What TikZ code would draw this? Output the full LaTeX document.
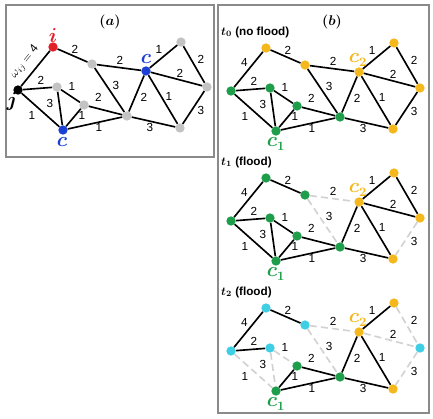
\documentclass[tikz,border=0pt]{standalone}
\usepackage{fontspec}
\setsansfont{Liberation Sans}
\usepackage{bm}
\usetikzlibrary{calc}
\definecolor{ired}{HTML}{E3202A}
\definecolor{cblue}{HTML}{1C3FD6}
\definecolor{nodegray}{HTML}{C3C3C3}
\definecolor{zonegreen}{HTML}{1E9E4B}
\definecolor{zoneyellow}{HTML}{F4B81C}
\definecolor{zonecyan}{HTML}{3ECFE4}
\definecolor{gonegray}{HTML}{D2D2D2}
\definecolor{framegray}{HTML}{8A8A8A}

% node spots of one network (pixels, y down) and its weighted links
\newcommand\netspots{i/53/47, j/18/90, a/92/64, ct/146/71, b/181/42, r/207/87,
  d/180/128, e/127/116, f/84/105, g/57/87, cb/63/130}
\newcommand\netlinks{i/a/2/2.5/-6.5, a/ct/2/1/-7.5, ct/b/1/-4.5/-7.5, b/r/2/7/-5.5,
  ct/r/2/3.5/-6, r/d/3/7.5/3, ct/d/1/6/-3, ct/e/2/7.5/3.5, a/e/3/6.5/-5,
  e/d/3/-3.5/5.5, j/g/2/3.5/-8, j/cb/1/-8.5/5.5, g/cb/3/-10/-5.5, g/f/1/1.5/-9.5,
  f/e/2/-7/-13, f/cb/1/8.5/-2, cb/e/1/4/4}

\tikzset{
  % panel (a)
  a/all/.style={fill=nodegray}, a/i/.style={fill=ired}, a/j/.style={fill=black},
  a/ct/.style={fill=cblue}, a/cb/.style={fill=cblue},
  % t0: no flood
  t0/all/.style={fill=zoneyellow},
  t0/j/.style={fill=zonegreen}, t0/g/.style={fill=zonegreen}, t0/f/.style={fill=zonegreen},
  t0/e/.style={fill=zonegreen}, t0/cb/.style={fill=zonegreen},
  % t1: flood
  t1/all/.style={fill=zonegreen},
  t1/ct/.style={fill=zoneyellow}, t1/b/.style={fill=zoneyellow}, t1/r/.style={fill=zoneyellow},
  t1/d/.style={fill=zoneyellow},
  t1/a-ct/.style={gone}, t1/a-e/.style={gone}, t1/r-d/.style={gone},
  % t2: flood
  t2/all/.style={fill=zonecyan},
  t2/f/.style={fill=zonegreen}, t2/e/.style={fill=zonegreen}, t2/cb/.style={fill=zonegreen},
  t2/ct/.style={fill=zoneyellow}, t2/b/.style={fill=zoneyellow}, t2/d/.style={fill=zoneyellow},
  t2/a-ct/.style={gone}, t2/a-e/.style={gone}, t2/b-r/.style={gone}, t2/ct-r/.style={gone},
  t2/r-d/.style={gone}, t2/j-cb/.style={gone}, t2/g-cb/.style={gone}, t2/g-f/.style={gone}
}

\newcommand\drawnet[2]{% #1 name prefix, #2 shift
  \begin{scope}[shift={(#2)}]
    \foreach \n/\x/\y in \netspots
      \node[dot,#1/all/.try,#1/\n/.try] (#1-\n) at (\x,\y) {};
  \end{scope}
  \foreach \u/\v/\w/\dx/\dy in \netlinks {
    \draw[link,#1/\u-\v/.try] (#1-\u) -- (#1-\v);
    \node[wt] (#1-w\u\v) at ($(#1-\u)!.5!(#1-\v)+(\dx,\dy)$) {\w};
  }
  \draw[link] (#1-j) -- (#1-i);
}

\begin{document}
\begin{tikzpicture}[x=0.03cm,y=-0.03cm]
  \tikzstyle{dot}=[circle,inner sep=0pt,minimum size=0.28cm]
  \tikzstyle{link}=[black,line width=1.4pt]
  \tikzstyle{gone}=[gonegray,dash pattern=on 6pt off 3.5pt]
  \tikzstyle{wt}=[inner sep=0pt,font=\sffamily\fontsize{10}{11}\selectfont]
  \tikzstyle{tag}=[inner sep=0pt,font=\fontsize{16}{17}\selectfont]
  \tikzstyle{head}=[inner sep=0pt,font=\fontsize{13}{14}\selectfont]
  \tikzstyle{stage}=[inner sep=0pt,anchor=west,font=\sffamily\bfseries\fontsize{10}{11}\selectfont]
  \tikzstyle{frame}=[framegray,line width=1.5pt]
  \useasboundingbox (0,0) rectangle (433,418);
  \draw[frame] (6,5) rectangle (214,157);
  \draw[frame] (218,5) rectangle (429,413);

  % (a) one network
  \node[head] (ttl-a) at (110,22) {$\bm{(a)}$};
  \drawnet{a}{0,0}
  \node[wt,rotate=51,font=\fontsize{10}{11}\selectfont] (a-wji) at (25,62) {$\omega_{ij}=\mathsf{4}$};
  \node[tag,text=ired] (a-li) at ($(a-i)+(0,-12)$) {$\bm{i}$};
  \node[tag] (a-lj) at ($(a-j)+(-6,11)$) {$\bm{j}$};
  \node[tag,text=cblue] (a-lct) at ($(a-ct)+(0,-12)$) {$\bm{c}$};
  \node[tag,text=cblue] (a-lcb) at ($(a-cb)+(-1,12)$) {$\bm{c}$};

  % (b) three time steps
  \node[head] (ttl-b) at (332,22) {$\bm{(b)}$};
  \drawnet{t0}{213,1}
  \drawnet{t1}{213,131}
  \drawnet{t2}{213,261}
  \foreach \p in {t0,t1,t2} {
    \node[wt] (\p-wji) at ($(\p-j)!.5!(\p-i)+(-4,-7)$) {4};
    \node[tag,text=zoneyellow] (\p-lct) at ($(\p-ct)+(-1,-12)$) {$\bm{c}_{\bm{2}}$};
    \node[tag,text=zonegreen] (\p-lcb) at ($(\p-cb)+(0,13)$) {$\bm{c}_{\bm{1}}$};
  }
  \node[stage] (t0-ttl) at (221,32) {$\bm{t}_{\bm{0}}$ (no flood)};
  \node[stage] (t1-ttl) at (221,162) {$\bm{t}_{\bm{1}}$ (flood)};
  \node[stage] (t2-ttl) at (221,292) {$\bm{t}_{\bm{2}}$ (flood)};
\end{tikzpicture}
\end{document}
